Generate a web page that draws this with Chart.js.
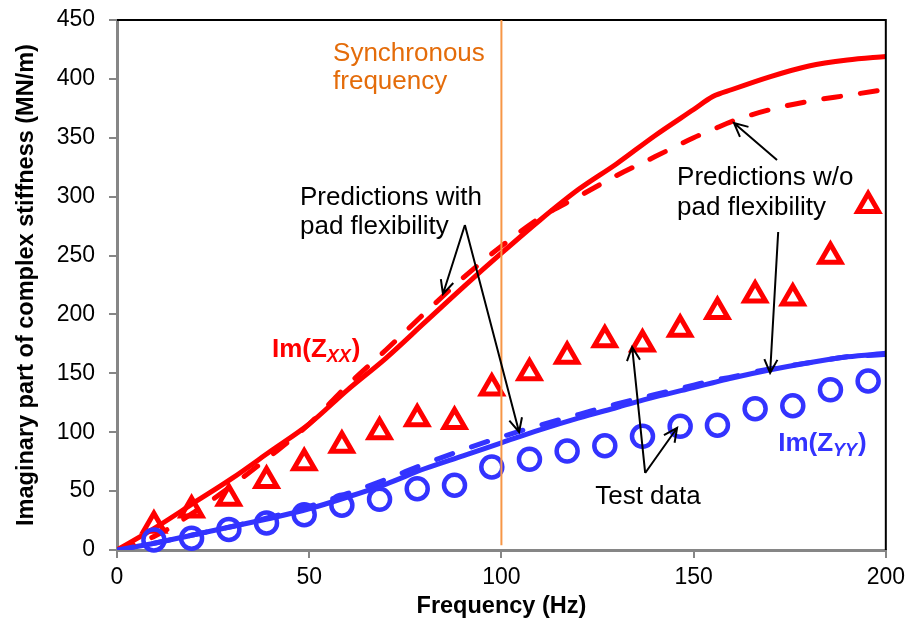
<!DOCTYPE html>
<html>
<head>
<meta charset="utf-8">
<script src="https://cdn.jsdelivr.net/npm/chart.js@4.4.0/dist/chart.umd.min.js"></script>
<style>
  html, body { margin: 0; padding: 0; background: #fff; }
  #wrap { width: 911px; height: 629px; }
</style>
</head>
<body>
<div id="wrap"><canvas id="myChart"></canvas></div>
<script>
// predicted curves (Hz -> MN/m)
var lineHz = [0, 10, 20, 30, 40, 50, 60, 70, 80, 90, 100, 110, 120, 130, 140, 150, 155, 160, 170, 180, 190, 200];
var zxxSolid = [0, 19, 40, 61, 84, 107, 136, 163, 193, 223, 252, 280, 306, 328, 352, 374, 385, 391, 402, 411, 416, 419];
var zxxDashed = [0, 12, 32, 55, 80, 107, 140, 170, 201, 231, 258, 282, 300, 318, 334, 350, 357, 364, 374, 381, 386, 391];
var zyySolid = [0, 6, 13, 20, 27, 35, 45, 56, 69, 80, 91, 102, 112, 121, 130, 138, 142, 146, 153, 159, 164, 167];
var zyyDashed = [0, 6, 13, 20, 28, 37, 48, 60, 73, 85, 96, 106, 115, 124, 132, 140, 144, 147, 154, 159, 164, 166];

// test data
var testHz = [9.6, 19.4, 29.1, 38.9, 48.7, 58.5, 68.3, 78.1, 87.8, 97.5, 107.3, 117.1, 126.9, 136.7, 146.5, 156.2, 166, 175.8, 185.6, 195.4];
var zxxTest = [21, 34, 44, 59, 74, 89, 100.5, 111.5, 109, 137.5, 150.5, 164.5, 178.5, 175, 187.5, 202.5, 216.5, 214, 249.5, 292.5];
var zyyTest = [8.5, 10, 17.5, 23, 30, 38, 43, 52, 55, 70.5, 77, 84, 88.5, 96.5, 105, 106, 120, 122.5, 136, 143.5];

var xTicks = [0, 50, 100, 150, 200];
var yTicks = [0, 50, 100, 150, 200, 250, 300, 350, 400, 450];
var syncHz = 100;

var RED = '#FF0000';
var BLUE = '#3333FF';
var FONT = "'Liberation Sans', Arial, sans-serif";

function pts(xs, ys) {
  var out = [];
  for (var i = 0; i < xs.length; i++) {
    out.push({x: xs[i], y: ys[i]});
  }
  return out;
}

function lineSet(ys, color, dashed) {
  return {
    data: pts(lineHz, ys),
    showLine: true,
    pointRadius: 0,
    borderColor: color,
    borderWidth: 5,
    borderDash: dashed ? [17, 20] : [],
    borderCapStyle: 'round',
    cubicInterpolationMode: 'monotone'
  };
}

function arrow(ctx, X, Y, a) {
  var x0 = X(a[0]), y0 = Y(a[1]), x1 = X(a[2]), y1 = Y(a[3]);
  var ang = Math.atan2(y1 - y0, x1 - x0);
  var len = 15, spread = 0.45;
  ctx.beginPath();
  ctx.moveTo(x0, y0);
  ctx.lineTo(x1, y1);
  ctx.moveTo(x1 - len * Math.cos(ang - spread), y1 - len * Math.sin(ang - spread));
  ctx.lineTo(x1, y1);
  ctx.lineTo(x1 - len * Math.cos(ang + spread), y1 - len * Math.sin(ang + spread));
  ctx.stroke();
}

function subLabel(ctx, x, y, sub, color) {
  ctx.fillStyle = color;
  ctx.font = 'bold 26px ' + FONT;
  ctx.fillText('Im(Z', x, y);
  var w = ctx.measureText('Im(Z').width;
  ctx.font = 'italic bold 18px ' + FONT;
  ctx.fillText(sub, x + w, y + 5);
  var w2 = ctx.measureText(sub).width;
  ctx.font = 'bold 26px ' + FONT;
  ctx.fillText(')', x + w + w2 + 1, y);
}

var notes = {
  id: 'notes',
  afterDatasetsDraw: function (chart) {
    var ctx = chart.ctx, a = chart.chartArea;
    var xs = chart.scales.x, ys = chart.scales.y;
    var X = function (v) { return xs.getPixelForValue(v); };
    var Y = function (v) { return ys.getPixelForValue(v); };
    ctx.save();

    // top and right frame
    ctx.strokeStyle = '#000';
    ctx.lineWidth = 2;
    ctx.beginPath();
    ctx.moveTo(a.left, a.top);
    ctx.lineTo(a.right, a.top);
    ctx.lineTo(a.right, a.bottom);
    ctx.stroke();

    // synchronous frequency marker
    ctx.strokeStyle = '#F79646';
    ctx.lineWidth = 2;
    ctx.beginPath();
    ctx.moveTo(X(syncHz), a.top);
    ctx.lineTo(X(syncHz), Y(4));
    ctx.stroke();

    ctx.textBaseline = 'alphabetic';
    ctx.textAlign = 'left';
    ctx.font = '26px ' + FONT;
    ctx.fillStyle = '#E46C0A';
    ctx.fillText('Synchronous', X(56.2), Y(415.2));
    ctx.fillText('frequency', X(56.2), Y(391.4));

    ctx.fillStyle = '#000';
    ctx.fillText('Predictions with', X(47.6), Y(292.9));
    ctx.fillText('pad flexibility', X(47.6), Y(268.3));
    ctx.fillText('Predictions w/o', X(145.7), Y(309.9));
    ctx.fillText('pad flexibility', X(145.7), Y(284.4));
    ctx.fillText('Test data', X(124.4), Y(39.1));

    subLabel(ctx, X(40.3), Y(163.9), 'XX', RED);
    subLabel(ctx, X(172), Y(84), 'YY', BLUE);

    ctx.strokeStyle = '#000';
    ctx.lineWidth = 2;
    var arrows = [
      [90.5, 275.9, 84.8, 217.4],
      [90.5, 275.9, 104.6, 100.2],
      [171.7, 331.1, 160.5, 362.5],
      [172.0, 270.0, 169.9, 150.3],
      [137.4, 65.4, 134.0, 172.4],
      [137.4, 65.4, 145.7, 103.6]
    ];
    for (var i = 0; i < arrows.length; i++) {
      arrow(ctx, X, Y, arrows[i]);
    }
    ctx.restore();
  }
};

var ctx = document.getElementById('myChart');
new Chart(ctx, {
  type: 'scatter',
  data: {
    datasets: [
      {
        data: pts(testHz, zyyTest),
        showLine: false,
        pointStyle: 'circle',
        pointRadius: 10.5,
        borderWidth: 4.5,
        borderColor: BLUE,
        backgroundColor: 'rgba(0,0,0,0)',
        clip: false
      },
      {
        data: pts(testHz, zxxTest),
        showLine: false,
        pointStyle: 'triangle',
        pointRadius: 12,
        borderWidth: 5,
        borderColor: RED,
        backgroundColor: 'rgba(0,0,0,0)',
        clip: false
      },
      lineSet(zyyDashed, BLUE, true),
      lineSet(zxxDashed, RED, true),
      lineSet(zyySolid, BLUE, false),
      lineSet(zxxSolid, RED, false)
    ]
  },
  options: {
    responsive: true,
    maintainAspectRatio: false,
    animation: false,
    events: [],
    layout: { padding: { top: 20, right: 25, left: 0, bottom: 0 } },
    plugins: {
      legend: { display: false },
      tooltip: { enabled: false }
    },
    scales: {
      x: {
        type: 'linear',
        min: 0,
        max: 200,
        afterBuildTicks: function (s) { s.ticks = xTicks.map(function (v) { return {value: v}; }); },
        afterFit: function (s) { s.height = 79; },
        grid: { drawOnChartArea: false, color: '#868686', lineWidth: 2, tickLength: 8 },
        border: { color: '#868686', width: 3 },
        ticks: { color: '#000', padding: 6, maxRotation: 0, font: { family: FONT, size: 23 } },
        title: {
          display: true,
          text: 'Frequency (Hz)',
          color: '#000',
          padding: { top: 8, bottom: 8 },
          font: { family: FONT, size: 23.5, weight: 'bold' }
        }
      },
      y: {
        type: 'linear',
        min: 0,
        max: 450,
        afterBuildTicks: function (s) { s.ticks = yTicks.map(function (v) { return {value: v}; }); },
        afterFit: function (s) { s.width = 117; s.paddingTop = 0; s.paddingBottom = 0; },
        grid: { drawOnChartArea: false, color: '#868686', lineWidth: 2, tickLength: 8 },
        border: { color: '#868686', width: 3 },
        ticks: { color: '#000', padding: 14, font: { family: FONT, size: 23 } },
        title: {
          display: true,
          text: 'Imaginary part of complex stiffness (MN/m)',
          color: '#000',
          padding: { top: 12.5, bottom: 12.5 },
          font: { family: FONT, size: 23.5, weight: 'bold' }
        }
      }
    }
  },
  plugins: [notes]
});
</script>
</body>
</html>
